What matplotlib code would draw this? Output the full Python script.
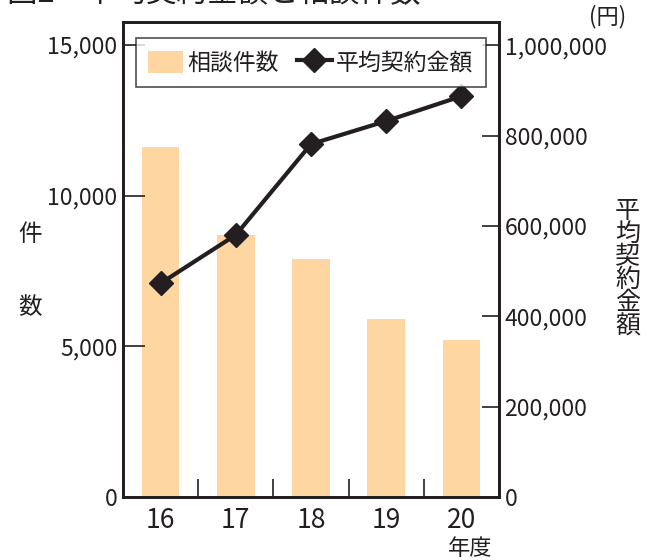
import numpy as np
import matplotlib
matplotlib.use("Agg")
import matplotlib.pyplot as plt
from matplotlib.patches import Patch
from matplotlib.lines import Line2D

plt.rcParams['font.family'] = ['Noto Sans CJK JP', 'DejaVu Sans']

years = ["16", "17", "18", "19", "20"]
counts = [11600, 8700, 7900, 5900, 5200]
avg_amount = [473000, 580000, 781000, 832000, 887000]
left_ticks = [0, 5000, 10000, 15000]
right_ticks = [0, 200000, 400000, 600000, 800000, 1000000]

bar_color = "#FDD6A2"
ink = "#231f20"

fig = plt.figure(figsize=(6.55, 5.6), dpi=100)
ax = fig.add_axes([0.1878, 0.1125, 0.574, 0.848])
ax2 = ax.twinx()

x = np.arange(len(years))
ax.bar(x, counts, width=0.5, color=bar_color, zorder=1)
ax2.plot(x, avg_amount, color=ink, lw=3, marker="D", markersize=12,
         markerfacecolor=ink, markeredgecolor=ink, zorder=3)

ax.set_xlim(-0.5, 4.5)
ax.set_ylim(0, 15760)
ax2.set_ylim(0, 1051000)

ax.set_xticks(x)
ax.set_xticklabels(years, fontsize=19)
ax.set_xticks(x[:-1] + 0.5, minor=True)
ax.tick_params(axis="x", which="major", length=0, pad=7, colors=ink)
ax.tick_params(axis="x", which="minor", direction="in", length=13, width=1.2, color=ink)

ax.set_yticks(left_ticks)
ax.set_yticklabels([f"{v:,}" for v in left_ticks], fontsize=16.5)
ax.tick_params(axis="y", direction="in", length=16, width=1.2, pad=4, colors=ink)

ax2.set_yticks(right_ticks)
ax2.set_yticklabels([f"{v:,}" for v in right_ticks], fontsize=16.5)
ax2.tick_params(axis="y", direction="in", length=12, width=1.2, pad=4, colors=ink)

for a in (ax, ax2):
    for s in a.spines.values():
        s.set_linewidth(2)
        s.set_color(ink)

handles = [Patch(facecolor=bar_color, edgecolor="none"),
           Line2D([0], [0], color=ink, lw=3, marker="D", markersize=12)]
leg = ax2.legend(handles, ["相談件数", "平均契約金額"], loc="upper center",
                 bbox_to_anchor=(0.5, 0.98), ncol=2, fontsize=16.5,
                 frameon=True, fancybox=False, handlelength=1.5,
                 handleheight=1.1, handletextpad=0.2, columnspacing=0.8,
                 borderpad=0.55, borderaxespad=0.3)
leg.get_frame().set_edgecolor(ink)
leg.get_frame().set_linewidth(1.2)
for t in leg.get_texts():
    t.set_color(ink)

fig.text(0.046, 0.582, "件", fontsize=17, color=ink, ha="center", va="center")
fig.text(0.046, 0.45, "数", fontsize=17, color=ink, ha="center", va="center")
fig.text(0.958, 0.52, "平\n均\n契\n約\n金\n額", fontsize=18, color=ink,
         ha="center", va="center", linespacing=0.85)
fig.text(0.928, 0.97, "(円)", fontsize=16, color=ink, ha="center", va="center")
fig.text(0.718, 0.02, "年度", fontsize=16, color=ink, ha="center", va="center")
fig.text(0.01, 1.012, "図2　平均契約金額と相談件数", fontsize=22, color=ink,
         ha="left", va="center")

fig.savefig("out.png", dpi=100)
